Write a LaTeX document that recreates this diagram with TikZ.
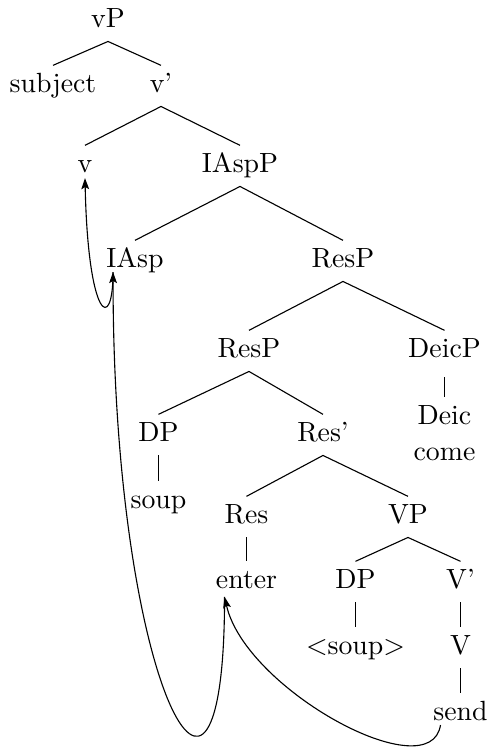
\documentclass[tikz,border=0pt]{standalone}
\usetikzlibrary{arrows.meta}

\begin{document}
\begin{tikzpicture}[x=3.6pt, y=3.6pt,
    lbl/.style={anchor=base, inner sep=2.5pt, text height=6.9pt, text depth=2.5pt},
    mv/.style={-{Stealth[length=4pt, width=2.8pt, inset=0.8pt]}}]
      \useasboundingbox (0,0) rectangle (48.7,-74.7);

      \node[lbl] (vP) at (10.8,-2.7) {vP};
      \node[lbl] (subj) at (5.3,-9.2) {subject};
      \node[lbl] (vbar) at (16.1,-9.2) {v'};
      \node[lbl] (v) at (8.5,-17.2) {v};
      \node[lbl] (IAspP) at (24.0,-17.2) {IAspP};
      \node[lbl] (IAsp) at (13.5,-26.7) {IAsp};
      \node[lbl] (ResPa) at (34.3,-26.7) {ResP};
      \node[lbl] (ResPb) at (24.9,-35.7) {ResP};
      \node[lbl] (DeicP) at (44.45,-35.7) {DeicP};
      \node[lbl] (DPa) at (15.85,-44.1) {DP};
      \node[lbl] (Resbar) at (32.3,-44.1) {Res'};
      \node[lbl] (Deic) at (44.45,-42.4) {Deic};
      \node[lbl] (come) at (44.45,-46.0) {come};
      \node[lbl] (soup) at (15.85,-50.8) {soup};
      \node[lbl] (Res) at (24.65,-52.3) {Res};
      \node[lbl] (VP) at (40.8,-52.3) {VP};
      \node[lbl] (enter) at (24.65,-58.8) {enter};
      \node[lbl] (DPb) at (35.55,-58.8) {DP};
      \node[lbl] (Vbar) at (46.05,-58.8) {V'};
      \node[lbl] (tsoup) at (35.55,-65.4) {$<$soup$>$};
      \node[lbl] (V) at (46.05,-65.4) {V};
      \node[lbl] (send) at (46.05,-72.0) {send};

      \draw (vP.south) -- (subj.north);
      \draw (vP.south) -- (vbar.north);
      \draw (vbar.south) -- (v.north);
      \draw (vbar.south) -- (IAspP.north);
      \draw (IAspP.south) -- (IAsp.north);
      \draw (IAspP.south) -- (ResPa.north);
      \draw (ResPa.south) -- (ResPb.north);
      \draw (ResPa.south) -- (DeicP.north);
      \draw (ResPb.south) -- (DPa.north);
      \draw (ResPb.south) -- (Resbar.north);
      \draw ([yshift=-2pt]DeicP.south) -- (Deic.north);
      \draw (DPa.south) -- (soup.north);
      \draw (Resbar.south) -- (Res.north);
      \draw (Resbar.south) -- (VP.north);
      \draw (Res.south) -- (enter.north);
      \draw (VP.south) -- (DPb.north);
      \draw (VP.south) -- (Vbar.north);
      \draw (DPb.south) -- (tsoup.north);
      \draw (Vbar.south) -- (V.north);
      \draw (V.south) -- (send.north);

      % movement
      \coordinate (v-in) at ([yshift=-2.2pt]v.base);
      \coordinate (IAsp-in) at ([shift={(-7.9pt,-1.8pt)}]IAsp.base);
      \coordinate (enter-in) at ([shift={(-7.9pt,-3.2pt)}]enter.base);
      \coordinate (send-out) at ([shift={(-7.2pt,-1.8pt)}]send.base);

      \draw[mv] (IAsp-in) .. controls +(0,-6.2) and +(0.3,-14.2) .. (v-in);
      \draw[mv] (enter-in) .. controls +(0,-29.5) and +(0,-41.5) .. (IAsp-in);
      \draw[mv] (send-out) .. controls +(-1,-6.5) and +(2.1,-9.3) .. (enter-in);
    \end{tikzpicture}
\end{document}
